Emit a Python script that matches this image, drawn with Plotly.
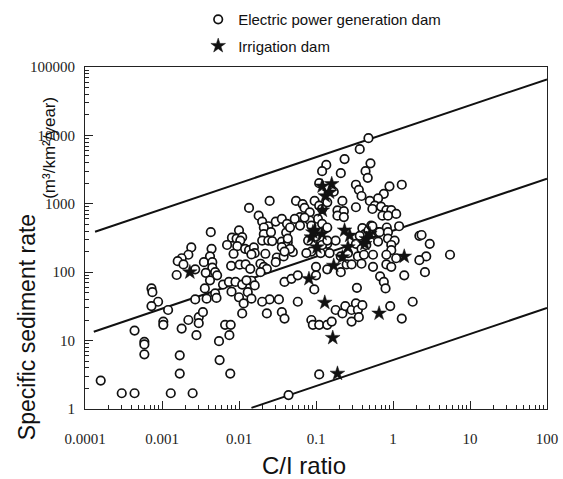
import plotly.graph_objects as go

# C/I ratio vs specific sediment rate (m3/km2/year)
power_ci = [
    0.0024, 0.0022, 0.0018, 0.0016, 0.0019, 0.0027, 0.00155, 0.00073, 0.00075, 0.00089,
    0.00073, 0.0012, 0.0027, 0.0022, 0.0030, 0.00104, 0.00104, 0.0018, 0.0030, 0.00044,
    0.0028, 0.00059, 0.00059, 0.00059, 0.0017, 0.0017, 0.00016, 0.0003, 0.00044, 0.0013,
    0.0025, 0.0034,
    0.025, 0.0135, 0.018, 0.02, 0.024, 0.03, 0.036, 0.042, 0.021, 0.021,
    0.020, 0.024, 0.027, 0.036, 0.041, 0.026, 0.043, 0.041, 0.0043, 0.010,
    0.0081, 0.0093, 0.011, 0.0104, 0.007, 0.0095, 0.012, 0.0135, 0.0156, 0.016,
    0.0085, 0.0044, 0.0042, 0.0035, 0.0045, 0.0045, 0.0049, 0.0037, 0.0079, 0.0102,
    0.0122, 0.014, 0.019, 0.021, 0.023, 0.019, 0.031, 0.038, 0.039, 0.0052,
    0.0042, 0.0062, 0.0074, 0.009, 0.011, 0.0145, 0.016, 0.0036, 0.0049, 0.008,
    0.013, 0.0038, 0.0051, 0.01, 0.0145, 0.025, 0.033, 0.0125, 0.0115, 0.02,
    0.011, 0.023, 0.036, 0.039, 0.0066, 0.0078, 0.0075, 0.0055, 0.0056, 0.0077,
    0.044, 0.0145, 0.022, 0.05, 0.036, 0.030, 0.048, 0.058,
    0.136, 0.12, 0.21, 0.235, 0.37, 0.48, 0.44, 0.47, 0.51, 0.11,
    0.17, 0.096, 0.22, 0.33, 0.36, 0.39, 0.33, 0.055, 0.067, 0.071,
    0.083, 0.062, 0.11, 0.12, 0.19, 0.23, 0.19, 0.23, 0.106, 0.12,
    0.14, 0.053, 0.046, 0.062, 0.043, 0.046, 0.039, 0.40, 0.43, 0.37,
    0.48, 0.33, 0.39, 0.45, 0.087, 0.11, 0.115, 0.15, 0.21, 0.26,
    0.35, 0.42, 0.14, 0.18, 0.079, 0.10, 0.12, 0.14, 0.075, 0.10,
    0.14, 0.083, 0.071, 0.14, 0.21, 0.25, 0.29, 0.39, 0.10, 0.095,
    0.34, 0.058, 0.18, 0.22, 0.24, 0.29, 0.33, 0.35, 0.40, 0.29,
    0.36, 0.087, 0.091, 0.11, 0.14, 0.16, 0.11, 0.087, 0.52, 0.64,
    0.9, 1.3, 0.76, 0.64, 0.5, 0.58, 0.54, 0.7, 0.82, 0.95,
    1.1, 0.73, 0.86, 1.2, 0.83, 0.54, 0.67, 0.86, 2.2, 2.35,
    3.0, 5.5, 2.7, 0.64, 0.86, 1.05, 0.95, 0.95, 0.55, 0.82,
    1.1, 0.82, 0.95, 0.55, 2.2, 2.6, 1.4, 0.68, 0.76, 0.8,
    1.8, 0.92, 1.3,
]
power_rate = [
    230, 180, 160, 145, 130, 110, 91, 58, 51, 37,
    32, 28, 40, 20, 22, 19, 17, 15, 18, 14,
    12, 9.6, 8.8, 6.3, 6.1, 3.3, 2.6, 1.7, 1.7, 1.7,
    1.7, 26,
    1100, 870, 670, 550, 470, 550, 600, 510, 450, 360,
    290, 290, 285, 280, 380, 385, 275, 240, 385, 410,
    320, 310, 325, 290, 250, 240, 220, 210, 230, 190,
    186, 220, 170, 140, 140, 117, 100, 98, 124, 129,
    130, 112, 133, 120, 112, 100, 164, 170, 72, 90,
    76, 66, 72, 72, 66, 75, 64, 58, 49, 52,
    51, 41, 42, 43, 41, 40, 40, 76, 35, 37,
    25, 25, 26, 21, 17, 17, 12, 9.8, 5.2, 3.3,
    1.6, 182, 186, 196, 232, 140, 80, 90,
    3700, 3000, 2800, 4500, 6300, 9100, 3000, 2400, 3900, 2000,
    1500, 1100, 1100, 1900, 1600, 1300, 890, 1100, 990, 870,
    750, 640, 940, 840, 800, 780, 670, 640, 600, 510,
    450, 600, 450, 480, 310, 220, 200, 440, 360, 340,
    410, 260, 220, 250, 200, 230, 190, 190, 170, 190,
    170, 180, 260, 290, 290, 330, 250, 290, 190, 120,
    1050, 570, 630, 110, 100, 130, 130, 133, 90, 56,
    59, 37, 28, 25, 32, 28, 35, 28, 33, 19,
    22, 20, 17, 17, 17, 19, 3.2, 480, 480, 385,
    1800, 1900, 1400, 1200, 1100, 940, 840, 910, 810, 810,
    710, 670, 670, 470, 450, 470, 385, 385, 340, 350,
    260, 180, 170, 280, 310, 290, 250, 210, 180, 180,
    160, 130, 120, 120, 150, 100, 90, 87, 72, 58,
    37, 32, 21,
]

irrigation_ci = [
    0.0023, 0.081, 0.13, 0.17, 0.165, 0.19, 0.22, 0.66, 1.4, 0.12,
    0.16, 0.132, 0.15, 0.096, 0.087, 0.12, 0.235, 0.274, 0.26, 0.45,
    0.5, 0.43, 0.103, 0.121, 0.091,
]
irrigation_rate = [
    100, 80, 36, 125, 11, 3.3, 166, 25, 170, 1800,
    1950, 1300, 1470, 410, 325, 364, 410, 344, 232, 308,
    364, 260, 232, 800, 385,
]

# the three reference lines (end points)
upper_ci = [0.000135, 100]
upper_rate = [390, 66000]
middle_ci = [0.00013, 100]
middle_rate = [13.5, 2330]
lower_ci = [0.0145, 100]
lower_rate = [1.04, 30]

x_ticks = [0.0001, 0.001, 0.01, 0.1, 1, 10, 100]
x_ticktext = ["0.0001", "0.001", "0.01", "0.1", "1", "10", "100"]
y_ticks = [1, 10, 100, 1000, 10000, 100000]
y_ticktext = ["1", "10", "100", "1000", "10000", "100000"]

TICK_FONT = dict(family="Liberation Serif", size=15, color="#222")
LABEL_FONT = "Liberation Sans"

fig = go.Figure()

for xs, ys in [(upper_ci, upper_rate), (middle_ci, middle_rate), (lower_ci, lower_rate)]:
    fig.add_trace(go.Scatter(
        x=xs, y=ys, mode="lines",
        line=dict(color="#111", width=2),
        showlegend=False, hoverinfo="skip",
    ))

fig.add_trace(go.Scatter(
    x=power_ci, y=power_rate, mode="markers",
    name="Electric power generation dam",
    legendgroup="a",
    marker=dict(symbol="circle", size=8.5, color="white",
                line=dict(color="#111", width=1.7)),
))
fig.add_trace(go.Scatter(
    x=irrigation_ci, y=irrigation_rate, mode="markers",
    name="Irrigation dam",
    legendgroup="b",
    marker=dict(symbol="star", size=11, color="#111",
                line=dict(color="#111", width=0.5)),
))


def minor_vals(lo, hi):
    return [m * 10 ** e for e in range(lo, hi) for m in range(2, 10)]


fig.update_xaxes(
    type="log", range=[-4, 2], automargin=False,
    tickmode="array", tickvals=x_ticks, ticktext=x_ticktext,
    ticks="inside", ticklen=8, tickwidth=1, tickcolor="#222",
    ticklabelstandoff=16,
    minor=dict(ticks="inside", ticklen=4, tickcolor="#222",
               tickmode="array", tickvals=minor_vals(-4, 2), showgrid=False),
    showline=True, linecolor="#222", linewidth=1, mirror=True,
    showgrid=False, zeroline=False, tickfont=TICK_FONT,
)
fig.update_yaxes(
    type="log", range=[0, 5], automargin=False,
    tickmode="array", tickvals=y_ticks, ticktext=y_ticktext,
    ticks="inside", ticklen=8, tickwidth=1, tickcolor="#222",
    ticklabelstandoff=6,
    minor=dict(ticks="inside", ticklen=4, tickcolor="#222",
               tickmode="array", tickvals=minor_vals(0, 5), showgrid=False),
    showline=True, linecolor="#222", linewidth=1, mirror=True,
    showgrid=False, zeroline=False, tickfont=TICK_FONT,
)

fig.add_annotation(text="Specific sediment rate", xref="paper", yref="paper",
                   x=-0.125, y=0.24, textangle=-90, showarrow=False,
                   xanchor="center", yanchor="middle",
                   font=dict(family=LABEL_FONT, size=23, color="#111"))
fig.add_annotation(text="(m³/km²/year)", xref="paper", yref="paper",
                   x=-0.077, y=0.765, textangle=-90, showarrow=False,
                   xanchor="center", yanchor="middle",
                   font=dict(family=LABEL_FONT, size=17, color="#111"))
fig.add_annotation(text="C/I ratio", xref="paper", yref="paper",
                   x=0.475, y=-0.165, showarrow=False,
                   xanchor="center", yanchor="middle",
                   font=dict(family=LABEL_FONT, size=24, color="#111"))

fig.update_layout(
    width=563, height=479,
    margin=dict(l=85, r=16, t=67, b=70, autoexpand=False),
    paper_bgcolor="white", plot_bgcolor="white",
    legend=dict(x=0.245, y=1.187, xanchor="left", yanchor="top",
                bgcolor="rgba(0,0,0,0)", tracegroupgap=4,
                font=dict(family=LABEL_FONT, size=15, color="#111")),
)

# drop the browser's default 8px body margin so the figure sits at the page corner
fig.write_html("out.html", config={"displayModeBar": False},
               post_script="document.body.style.margin='0';")
